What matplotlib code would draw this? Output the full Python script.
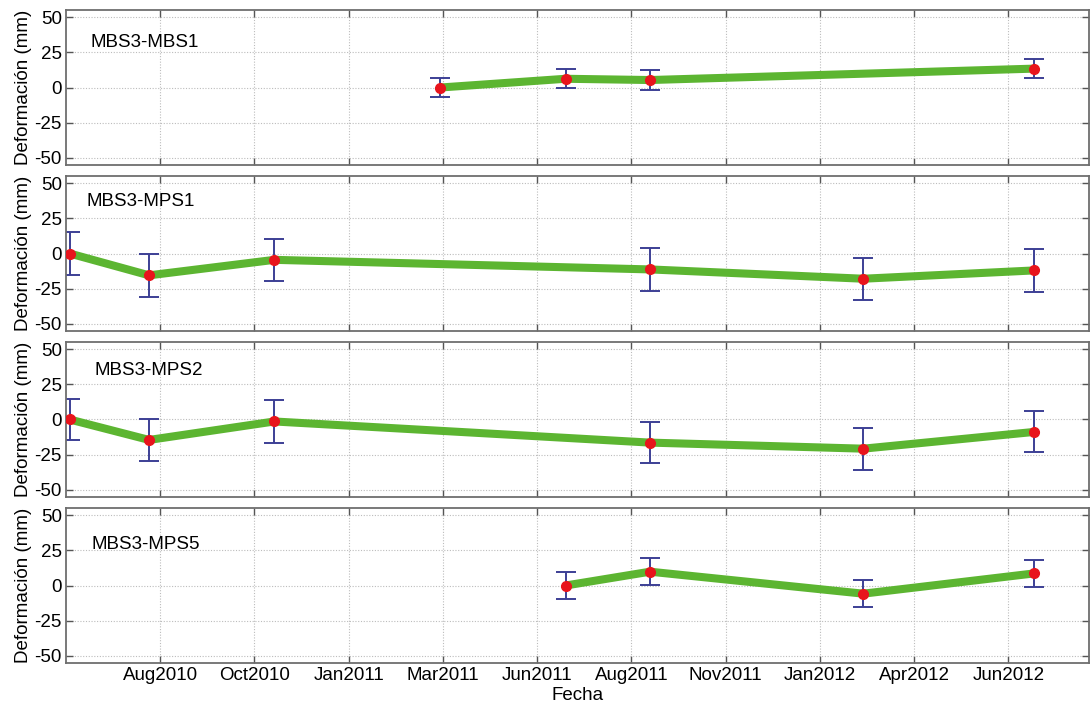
import matplotlib
matplotlib.use("Agg")
import matplotlib.pyplot as plt
import numpy as np
import pandas as pd


plt.rcParams["font.family"] = ["Liberation Sans", "DejaVu Sans"]
plt.rcParams["font.size"] = 13.5

# survey dates and relative deformation (mm) for each baseline
DATES_MBS1 = ["2011-03-29", "2011-07-08", "2011-09-14", "2012-07-20"]
DEF_MBS1 = [0.0, 6.2, 5.3, 13.4]
ERR_MBS1 = [6.8, 6.8, 6.8, 6.8]

DATES_MPS = ["2010-06-03", "2010-08-06", "2010-11-15", "2011-09-14", "2012-03-04", "2012-07-20"]
DEF_MPS1 = [0.0, -15.5, -4.5, -11.3, -17.9, -12.0]
ERR_MPS1 = [15.3, 15.5, 15.0, 15.0, 15.0, 15.0]

DEF_MPS2 = [0.0, -14.5, -1.4, -16.4, -20.7, -8.8]
ERR_MPS2 = [14.3, 14.6, 15.0, 14.8, 14.8, 14.5]

DATES_MPS5 = ["2011-07-08", "2011-09-14", "2012-03-04", "2012-07-20"]
DEF_MPS5 = [0.0, 9.8, -5.8, 8.6]
ERR_MPS5 = [9.7, 9.7, 9.7, 9.7]

PANELS = ["MBS3-MBS1", "MBS3-MPS1", "MBS3-MPS2", "MBS3-MPS5"]

TICK_DATES = ["2010-08-15", "2010-10-30", "2011-01-14", "2011-03-31", "2011-06-15",
              "2011-08-30", "2011-11-14", "2012-01-29", "2012-04-14", "2012-06-29"]
TICK_LABELS = ["Aug2010", "Oct2010", "Jan2011", "Mar2011", "Jun2011",
               "Aug2011", "Nov2011", "Jan2012", "Apr2012", "Jun2012"]
X_RANGE = ["2010-05-31", "2012-09-02"]
Y_TICKS = [-50, -25, 0, 25, 50]

series = [
    (DATES_MBS1, DEF_MBS1, ERR_MBS1),
    (DATES_MPS, DEF_MPS1, ERR_MPS1),
    (DATES_MPS, DEF_MPS2, ERR_MPS2),
    (DATES_MPS5, DEF_MPS5, ERR_MPS5),
]

W, H = 1090, 707
fig = plt.figure(figsize=(W / 100, H / 100), dpi=100)

left, right = 66, 1089
tops = [10, 176, 342, 508]
height = 155
label_pos = [(0.024, 0.79), (0.020, 0.836), (0.028, 0.818), (0.025, 0.764)]

green = "#5cb531"
red = "#e8141c"
navy = "#3c3f95"
frame = "#6e6e6e"

tick_dates = pd.to_datetime(TICK_DATES)
xlim = pd.to_datetime(X_RANGE)

axes = []
for i, (dates, vals, errs) in enumerate(series):
    ax = fig.add_axes([left / W, 1 - (tops[i] + height) / H, (right - left) / W, height / H])
    d = pd.to_datetime(dates)
    ax.errorbar(d, vals, yerr=errs, fmt="none", ecolor=navy, elinewidth=1.4,
                capsize=7.5, capthick=1.4, zorder=2)
    ax.plot(d, vals, color=green, lw=5.8, solid_capstyle="butt", zorder=3)
    ax.plot(d, vals, "o", color=red, ms=7, mec=red, zorder=4)

    ax.set_xlim(xlim[0], xlim[1])
    ax.set_ylim(-55, 55)
    ax.set_yticks(Y_TICKS)
    ax.set_yticklabels([str(v) for v in Y_TICKS])
    ax.set_xticks(tick_dates)
    if i == len(series) - 1:
        ax.set_xticklabels(TICK_LABELS)
        ax.set_xlabel("Fecha", labelpad=2)
    else:
        ax.set_xticklabels([])

    ax.grid(True, linestyle=(0, (1, 1.5)), color="#bcbcbc", lw=0.8)
    ax.tick_params(direction="in", length=5, width=1, color="#555555",
                   top=True, right=True, labelsize=13.5, pad=3)
    for s in ax.spines.values():
        s.set_color(frame)
        s.set_linewidth(1.3)
    ax.set_ylabel("Deformación (mm)", labelpad=2)

    ax.text(label_pos[i][0], label_pos[i][1], PANELS[i], transform=ax.transAxes,
            ha="left", va="center", fontsize=13.5)
    axes.append(ax)

fig.align_ylabels(axes)
fig.savefig("out.png", dpi=100)
